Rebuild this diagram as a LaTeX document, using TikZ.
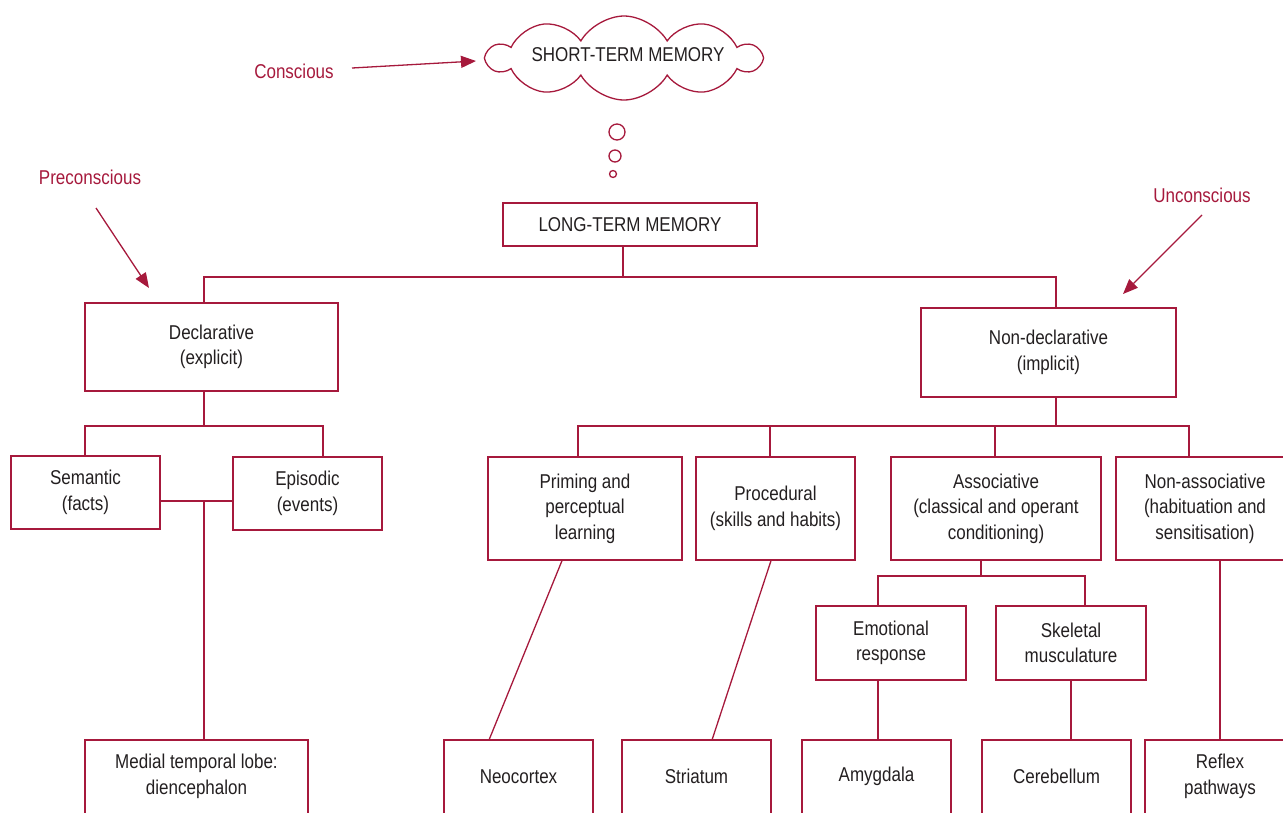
\documentclass[tikz,border=0pt]{standalone}
\usepackage{fontspec}
\setmainfont{Liberation Sans}[FakeStretch=0.85]
\usetikzlibrary{shapes.symbols,arrows.meta,calc}
\definecolor{crim}{HTML}{A6193C}
\definecolor{ink}{HTML}{231F20}
\begin{document}
\begin{tikzpicture}[x=1pt,y=-1pt,
  box/.style={draw=crim, line width=1.3pt, text=ink, align=center, inner sep=0pt,
    font=\fontsize{20}{25.5}\selectfont},
  openbox/.style={box, draw=none, outer sep=0pt},
  lbl/.style={text=crim, inner sep=0pt, font=\fontsize{20}{25}\selectfont},
  conn/.style={draw=crim, line width=1.3pt},
  arr/.style={draw=crim, line width=1.3pt, -{Triangle[length=15pt,width=12pt]}},
  bub/.style={circle, draw=crim, line width=1.3pt, inner sep=0pt}]
\useasboundingbox (0,0) rectangle (1283,812);
\clip (0,0) rectangle (1283,812);

% short-term memory cloud
\node[cloud, draw=crim, line width=1.3pt, cloud puffs=10, cloud puff arc=120,
  cloud ignores aspect, minimum width=272pt, minimum height=84pt, inner sep=0pt] (cloudshape) at (624,58) {};
\node[text=ink, inner sep=0pt, font=\fontsize{20}{25}\selectfont] (stm) at (628,55) {SHORT-TERM MEMORY};
\node[bub, minimum size=16pt] (b1) at (617,132) {};
\node[bub, minimum size=12pt] (b2) at (615,156) {};
\node[bub, minimum size=7pt] (b3) at (613,174) {};

% labels
\node[lbl] (conscious) at (294,71) {Conscious};
\node[lbl] (precon) at (90,177) {Preconscious};
\node[lbl] (uncon) at (1202,195) {Unconscious};
\coordinate (ca) at (352,68);
\coordinate (cb) at (476,61);
\coordinate (pa) at (96,208);
\coordinate (pb) at (149,288);
\coordinate (ua) at (1202,215);
\coordinate (ub) at (1123,294);
\draw[arr] (ca) -- (cb);
\draw[arr] (pa) -- (pb);
\draw[arr] (ua) -- (ub);

% boxes
\node[box, minimum width=254pt, minimum height=43pt] (ltm) at (630,224.5) {LONG-TERM MEMORY};
\node[box, minimum width=253pt, minimum height=88pt] (decl) at (211.5,347) {Declarative\\(explicit)};
\node[box, minimum width=255pt, minimum height=89pt] (nondecl) at (1048.5,352.5) {Non-declarative\\(implicit)};
\node[box, minimum width=149pt, minimum height=73pt] (sem) at (85.5,492.5) {Semantic\\(facts)};
\node[box, minimum width=149pt, minimum height=73pt] (epi) at (307.5,493.5) {Episodic\\(events)};
\node[box, minimum width=194pt, minimum height=103pt] (prim) at (585,508.5) {Priming and\\perceptual\\learning};
\node[box, minimum width=159pt, minimum height=103pt] (proc) at (775.5,508.5) {Procedural\\(skills and habits)};
\node[box, minimum width=210pt, minimum height=103pt] (assoc) at (996,508.5) {Associative\\(classical and operant\\conditioning)};
\node[openbox, minimum width=178pt, minimum height=103pt] (nonassoc) at (1205,508.5) {Non-associative\\(habituation and\\sensitisation)};
\node[box, minimum width=150pt, minimum height=74pt] (emo) at (891,643) {Emotional\\response};
\node[box, minimum width=150pt, minimum height=74pt] (skel) at (1071,643) {Skeletal\\musculature};
\node[openbox, minimum width=223pt, minimum height=73pt] (med) at (196.5,776.5) {Medial temporal lobe:\\diencephalon};
\node[openbox, minimum width=149pt, minimum height=73pt] (neo) at (518.5,776.5) {Neocortex};
\node[openbox, minimum width=149pt, minimum height=73pt] (stri) at (696.5,776.5) {Striatum};
\node[openbox, minimum width=149pt, minimum height=73pt] (amyg) at (876.5,776.5) {Amygdala};
\node[openbox, minimum width=149pt, minimum height=73pt] (cere) at (1056.5,776.5) {Cerebellum};
\node[openbox, minimum width=150pt, minimum height=73pt] (refl) at (1220,776.5) {Reflex\\pathways};

% borders of the boxes that run past the picture's edge
\draw[conn] (nonassoc.south west) rectangle ($(nonassoc.north east)+(30,0)$);
\foreach \n in {med,neo,stri,amyg,cere}{
  \draw[conn] (\n.north west) rectangle ($(\n.south east)+(0,20)$);
}
\draw[conn] (refl.north west) rectangle ($(refl.south east)+(30,20)$);

% tree connectors
\coordinate (j1) at (623,277);
\draw[conn] (j1 |- ltm.south) -- (j1);
\draw[conn] (204,0 |- decl.north) |- (j1) -| (1056,0 |- nondecl.north);

\coordinate (j2) at (204,426);
\draw[conn] (j2 |- decl.south) -- (j2);
\draw[conn] (85,0 |- sem.north) |- (j2) -| (323,0 |- epi.north);

\coordinate (j3) at (204,501);
\draw[conn] (j3 -| sem.east) -- (j3 -| epi.west);
\draw[conn] (j3) -- (j3 |- med.north);

\coordinate (j4) at (1056,426);
\draw[conn] (j4 |- nondecl.south) -- (j4);
\draw[conn] (578,0 |- prim.north) |- (j4) -| (1189,0 |- nonassoc.north);
\draw[conn] (770,0 |- proc.north) -- (770,0 |- j4);
\draw[conn] (995,0 |- assoc.north) -- (995,0 |- j4);

\coordinate (j5) at (981,576);
\draw[conn] (j5 |- assoc.south) -- (j5);
\draw[conn] (878,0 |- emo.north) |- (j5) -| (1085,0 |- skel.north);

\draw[conn] (878,0 |- emo.south) -- (878,0 |- amyg.north);
\draw[conn] (1071,0 |- skel.south) -- (1071,0 |- cere.north);
\draw[conn] (562,0 |- prim.south) -- (489,0 |- neo.north);
\draw[conn] (771,0 |- proc.south) -- (712,0 |- stri.north);
\draw[conn] (1220,0 |- nonassoc.south) -- (1220,0 |- refl.north);
\end{tikzpicture}
\end{document}
